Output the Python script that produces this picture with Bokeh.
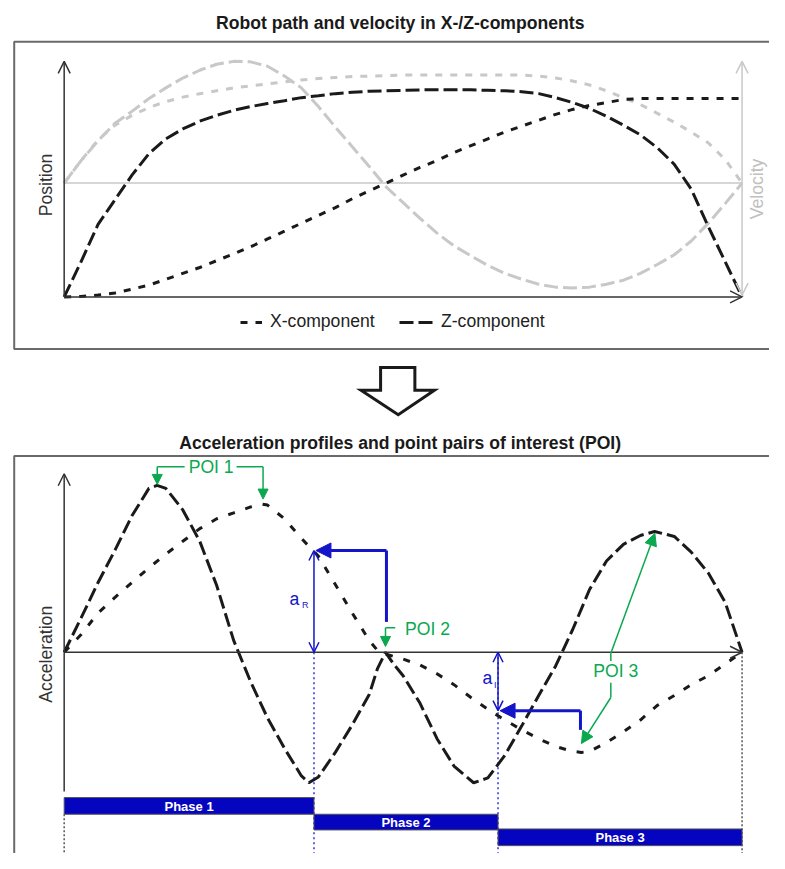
from bokeh.plotting import figure
from bokeh.models import Range1d, Arrow, OpenHead, NormalHead, Legend, LegendItem
from bokeh.core.properties import value
from bokeh.embed import file_html
from bokeh.resources import INLINE

# ---------------- data ----------------
# top panel: normalised time, position (0..100) and velocity (-100..100)
t_top = [0, 0.025, 0.05, 0.075, 0.1, 0.125, 0.15, 0.175, 0.2, 0.225, 0.25, 0.275, 0.3, 0.325,
         0.35, 0.375, 0.4, 0.425, 0.45, 0.475, 0.5, 0.525, 0.55, 0.575, 0.6, 0.625, 0.65, 0.675,
         0.7, 0.725, 0.75, 0.775, 0.8, 0.825, 0.85, 0.875, 0.9, 0.925, 0.95, 0.975, 1.0]
x_position = [0, 0.2, 0.8, 1.7, 3.3, 5.0, 7.5, 10.0, 12.5, 15.4, 18.3, 21.3, 24.6, 27.9, 31.3,
              34.6, 37.9, 41.7, 45.0, 48.3, 51.7, 55.0, 57.9, 61.3, 64.2, 67.1, 70.0, 72.5, 75.0,
              77.5, 79.6, 81.3, 82.5, 83.8, 84.2, 84.2, 84.2, 84.2, 84.2, 84.2, 84.2]
z_position = [0, 15.0, 30.8, 41.3, 51.7, 60.8, 67.1, 71.3, 74.6, 77.1, 79.2, 80.8, 82.1, 83.3,
              84.6, 85.4, 86.3, 86.9, 87.3, 87.5, 87.7, 87.9, 87.9, 87.9, 87.9, 87.7, 87.5, 87.1,
              86.3, 84.6, 82.5, 80.0, 76.7, 72.9, 68.8, 63.3, 56.3, 45.8, 30.0, 15.0, 0]
x_velocity = [0, 18.5, 35.5, 47.6, 55.6, 62.1, 66.9, 70.6, 73.4, 75.8, 78.2, 79.8, 81.5, 83.1,
              84.7, 85.9, 86.7, 87.5, 87.9, 88.3, 88.7, 88.7, 88.7, 88.7, 88.7, 88.7, 88.7, 88.7,
              87.9, 86.3, 83.9, 80.6, 75.8, 70.2, 64.5, 57.3, 50.0, 41.9, 33.1, 19.4, 0]
z_velocity = [0, 18.5, 34.7, 49.2, 58.9, 69.4, 78.2, 86.3, 92.7, 97.6, 100.0, 99.6, 96.0, 87.9,
              78.2, 62.9, 46.0, 29.8, 13.7, -3.2, -16.1, -29.0, -41.1, -51.6, -59.7, -67.7, -74.2,
              -79.0, -83.1, -85.5, -86.3, -85.5, -83.1, -79.8, -74.2, -66.9, -58.9, -47.6, -33.1,
              -16.9, 0]

# bottom panel: acceleration profiles
t_x_acc = [0, 0.025, 0.05, 0.075, 0.1, 0.125, 0.15, 0.175, 0.2, 0.225, 0.25, 0.275, 0.292, 0.3,
           0.325, 0.35, 0.375, 0.4, 0.425, 0.45, 0.462, 0.475, 0.5, 0.525, 0.55, 0.575, 0.6,
           0.625, 0.65, 0.675, 0.7, 0.725, 0.75, 0.763, 0.775, 0.8, 0.825, 0.85, 0.875, 0.9,
           0.925, 0.95, 0.975, 1.0]
x_acceleration = [0, 10.6, 23.5, 32.9, 41.8, 50.6, 58.8, 66.5, 74.1, 80.0, 83.5, 87.1, 88.8, 88.2,
                  80.0, 68.2, 57.6, 40.6, 23.5, 7.1, 1.2, -1.2, -4.1, -7.6, -12.9, -19.4, -27.1,
                  -34.1, -40.6, -46.5, -51.8, -56.5, -59.4, -60.0, -59.4, -54.1, -47.6, -40.6,
                  -31.8, -25.9, -19.4, -14.1, -7.1, 0]
t_z_acc = [0, 0.025, 0.05, 0.075, 0.1, 0.125, 0.137, 0.15, 0.175, 0.2, 0.225, 0.25, 0.275, 0.3,
           0.325, 0.35, 0.361, 0.375, 0.4, 0.425, 0.45, 0.462, 0.474, 0.487, 0.5, 0.525, 0.55,
           0.575, 0.604, 0.625, 0.65, 0.675, 0.7, 0.725, 0.75, 0.775, 0.8, 0.825, 0.85, 0.871,
           0.9, 0.925, 0.95, 0.975, 1.0]
z_acceleration = [0, 20.6, 41.8, 61.2, 81.8, 98.2, 100.0, 98.2, 85.3, 66.5, 40.0, 7.1, -17.6,
                  -39.4, -57.6, -74.1, -78.2, -74.7, -60.0, -43.5, -25.3, -10.0, 0, -7.6, -14.1,
                  -30.6, -51.8, -68.2, -78.2, -75.3, -61.8, -44.1, -25.9, -8.2, 13.5, 37.6, 54.7,
                  64.7, 70.0, 72.4, 69.4, 60.0, 47.6, 30.0, 0]

phase_labels = ["Phase 1", "Phase 2", "Phase 3"]
phase_start = [0.0, 0.3685, 0.640]
phase_end = [0.3685, 0.640, 1.0]

a_R = 61.0    # acceleration at end of phase 1 (X-component)
a_I = -35.0   # acceleration at end of phase 2 (X-component)

# ---------------- layout (reference pixels, scaled onto the canvas) ----------------
W, H = 769, 853
LEFT, TOP = 0, 0
RIGHT, BOTTOM = 785, 869
T0_X, T1_X = 65, 757
POS0_Y, POS_PX = 302, 2.4
VEL0_Y, VEL_PX = 186, 1.24
ACC0_Y, ACC_PX = 664, 1.7
TSPAN = T1_X - T0_X

FONT = "Liberation Sans"
FS = "17.6px"
BLACK = "#1a1a1a"
AXIS = "#333333"
LGRAY = "#c8c8c8"
GREEN = "#0aa84f"
BLUE = "#1414c8"
BAR = "#0505c0"

p = figure(width=W, height=H, x_range=Range1d(LEFT, RIGHT), y_range=Range1d(BOTTOM, TOP),
           output_backend="svg", toolbar_location=None, x_axis_location=None,
           y_axis_location=None, min_border=0)
p.outline_line_color = None
p.xgrid.visible = False
p.ygrid.visible = False
p.background_fill_color = "white"
p.border_fill_color = "white"

p.extra_x_ranges = {"t": Range1d((LEFT - T0_X) / TSPAN, (RIGHT - T0_X) / TSPAN)}
p.extra_y_ranges = {
    "pos": Range1d((POS0_Y - BOTTOM) / POS_PX, (POS0_Y - TOP) / POS_PX),
    "vel": Range1d((VEL0_Y - BOTTOM) / VEL_PX, (VEL0_Y - TOP) / VEL_PX),
    "acc": Range1d((ACC0_Y - BOTTOM) / ACC_PX, (ACC0_Y - TOP) / ACC_PX),
}

# ---------------- frames, titles, big arrow ----------------
p.quad(left=[14, 14], right=[820, 820], top=[42, 464], bottom=[355, 900],
       fill_color=None, line_color="#6a6a6a", line_width=2)
p.text(x=[408, 408], y=[23, 451],
       text=["Robot path and velocity in X-/Z-components",
             "Acceleration profiles and point pairs of interest (POI)"],
       text_font=value(FONT), text_font_style="bold", text_font_size=FS,
       text_color=BLACK, text_align="center", text_baseline="middle")
p.patch(x=[388, 423, 423, 443, 406, 368, 388], y=[374, 374, 397, 397, 422, 397, 397],
        fill_color="white", line_color=BLACK, line_width=3, line_join="miter")

# ---------------- top panel ----------------
p.line([0, 1], [0, 0], x_range_name="t", y_range_name="vel", line_color=LGRAY, line_width=1.5)
p.line(t_top, z_velocity, x_range_name="t", y_range_name="vel", line_color=LGRAY,
       line_width=3, line_dash="14 5")
p.line(t_top, x_velocity, x_range_name="t", y_range_name="vel", line_color=LGRAY,
       line_width=3, line_dash="7 8")

p.add_layout(Arrow(end=OpenHead(size=12, line_color=LGRAY, line_width=1.5),
                   start=OpenHead(size=12, line_color=LGRAY, line_width=1.5),
                   x_start=1, y_start=-92, x_end=1, y_end=100,
                   x_range_name="t", y_range_name="vel", line_color=LGRAY, line_width=1.5))
p.add_layout(Arrow(end=OpenHead(size=12, line_color=AXIS, line_width=1.5),
                   x_start=0, y_start=0, x_end=0, y_end=100,
                   x_range_name="t", y_range_name="pos", line_color=AXIS, line_width=1.5))
p.add_layout(Arrow(end=OpenHead(size=12, line_color=AXIS, line_width=1.5),
                   x_start=0, y_start=0, x_end=1, y_end=0,
                   x_range_name="t", y_range_name="pos", line_color=AXIS, line_width=1.5))

r_xpos = p.line(t_top, x_position, x_range_name="t", y_range_name="pos", line_color=BLACK,
                line_width=3, line_dash="7 8")
r_zpos = p.line(t_top, z_position, x_range_name="t", y_range_name="pos", line_color=BLACK,
                line_width=3, line_dash="14 5")

p.text(x=[46], y=[188], text=["Position"], angle=1.5708, text_font=value(FONT),
       text_font_size=FS, text_color=AXIS, text_align="center", text_baseline="middle")
p.text(x=[772], y=[192], text=["Velocity"], angle=1.5708, text_font=value(FONT),
       text_font_size=FS, text_color="#c0c0c0", text_align="center", text_baseline="middle")

# legends (screen offsets from the canvas bottom-left)
for lbl, rend, gw, loc, so in [("X-component", r_xpos, 22, (240, 521), 8),
                               ("Z-component", r_zpos, 35, (399, 521), 7)]:
    lg = Legend(items=[LegendItem(label=lbl, renderers=[rend])], location=loc,
                orientation="horizontal", glyph_width=gw, glyph_height=20, label_standoff=so,
                padding=0, margin=0, border_line_color=None, background_fill_alpha=0,
                label_text_font=FONT, label_text_font_size=FS, label_text_color="#222222")
    p.add_layout(lg)

# ---------------- bottom panel ----------------
p.segment(x0=[0, 1], y0=[829, 664], x1=[0, 1], y1=[900, 900], x_range_name="t",
          line_color="#555555", line_width=1.5, line_dash="2 2")
p.segment(x0=phase_start[1:], y0=[664, 664], x1=phase_start[1:], y1=[900, 900],
          x_range_name="t", line_color="#3333dd", line_width=1.5, line_dash="2 3")

p.add_layout(Arrow(end=OpenHead(size=12, line_color=AXIS, line_width=1.5),
                   x_start=0, y_start=-83.5, x_end=0, y_end=107,
                   x_range_name="t", y_range_name="acc", line_color=AXIS, line_width=1.5))
p.add_layout(Arrow(end=OpenHead(size=12, line_color=AXIS, line_width=1.5),
                   x_start=0, y_start=0, x_end=1, y_end=0,
                   x_range_name="t", y_range_name="acc", line_color=AXIS, line_width=1.5))

p.line(t_x_acc, x_acceleration, x_range_name="t", y_range_name="acc", line_color=BLACK,
       line_width=3, line_dash="7 11")
p.line(t_z_acc, z_acceleration, x_range_name="t", y_range_name="acc", line_color=BLACK,
       line_width=3, line_dash="14 5")

p.text(x=[46], y=[666], text=["Acceleration"], angle=1.5708, text_font=value(FONT),
       text_font_size=FS, text_color=AXIS, text_align="center", text_baseline="middle")

# phase bars
p.quad(left=phase_start, right=phase_end, top=[812, 829, 844], bottom=[829, 845, 861],
       x_range_name="t", fill_color=BAR, line_color="#555555", line_width=1)
p.text(x=[(a + b) / 2 for a, b in zip(phase_start, phase_end)], y=[821, 837, 853],
       text=phase_labels, x_range_name="t", text_font=value(FONT), text_font_style="bold",
       text_font_size="13px", text_color="white", text_align="center", text_baseline="middle")

# green POI annotations
gkw = dict(x_range_name="t", y_range_name="acc", line_color=GREEN, line_width=1.5)
p.line([0.1777, 0.1373], [111.2, 111.2], **gkw)
p.line([0.2543, 0.2934], [111.2, 111.2], **gkw)
p.line([0.4884, 0.474], [14.7, 14.7], **gkw)
p.line([0.8064, 0.8064], [-5.3, -0.6], **gkw)
p.line([0.8064, 0.8064], [-18.2, -27.1], **gkw)
for xs, ys, xe, ye, sz in [(0.1373, 111.2, 0.1373, 100.6, 10), (0.2934, 111.2, 0.2934, 91.8, 10),
                           (0.474, 14.7, 0.474, 3.5, 10), (0.8064, -0.6, 0.8714, 71.2, 12),
                           (0.8064, -27.1, 0.763, -54.7, 12)]:
    p.add_layout(Arrow(end=NormalHead(size=sz, fill_color=GREEN, line_color=GREEN, line_width=1),
                       x_start=xs, y_start=ys, x_end=xe, y_end=ye, **gkw))
p.text(x=[0.2168, 0.8136], y=[111.2, -11.2], text=["POI 1", "POI 3"], x_range_name="t",
       y_range_name="acc", text_font=value(FONT), text_font_size=FS, text_color=GREEN,
       text_align="center", text_baseline="middle")
p.text(x=[0.5029], y=[14.1], text=["POI 2"], x_range_name="t", y_range_name="acc",
       text_font=value(FONT), text_font_size=FS, text_color=GREEN, text_align="left",
       text_baseline="middle")

# blue annotations (a_R, a_I)
bkw = dict(x_range_name="t", y_range_name="acc", line_color=BLUE)
for tt, aa in [(phase_start[1], a_R), (phase_start[2], a_I)]:
    p.add_layout(Arrow(start=OpenHead(size=10, line_color=BLUE, line_width=1.5),
                       end=OpenHead(size=10, line_color=BLUE, line_width=1.5),
                       x_start=tt, y_start=0, x_end=tt, y_end=aa, line_width=1.5, **bkw))
p.line([0.4754, 0.4754], [18.2, a_R], line_width=3, **bkw)
p.line([0.7616, 0.7616], [-46.5, a_I], line_width=3, **bkw)
p.add_layout(Arrow(end=NormalHead(size=15, fill_color=BLUE, line_color=BLUE, line_width=1),
                   x_start=0.4754, y_start=a_R, x_end=0.3714, y_end=a_R, line_width=3, **bkw))
p.add_layout(Arrow(end=NormalHead(size=15, fill_color=BLUE, line_color=BLUE, line_width=1),
                   x_start=0.7616, y_start=a_I, x_end=0.643, y_end=a_I, line_width=3, **bkw))
p.text(x=[0.3396, 0.6243], y=[31.8, -15.3], text=["a", "a"], x_range_name="t",
       y_range_name="acc", text_font=value(FONT), text_font_size=FS, text_color=BLUE,
       text_align="center", text_baseline="middle")
p.text(x=[0.3555, 0.6358], y=[28.2, -19.4], text=["R", "I"], x_range_name="t",
       y_range_name="acc", text_font=value(FONT), text_font_size="9px", text_color=BLUE,
       text_align="center", text_baseline="middle")

open("out.html", "w").write(file_html(p, INLINE))
